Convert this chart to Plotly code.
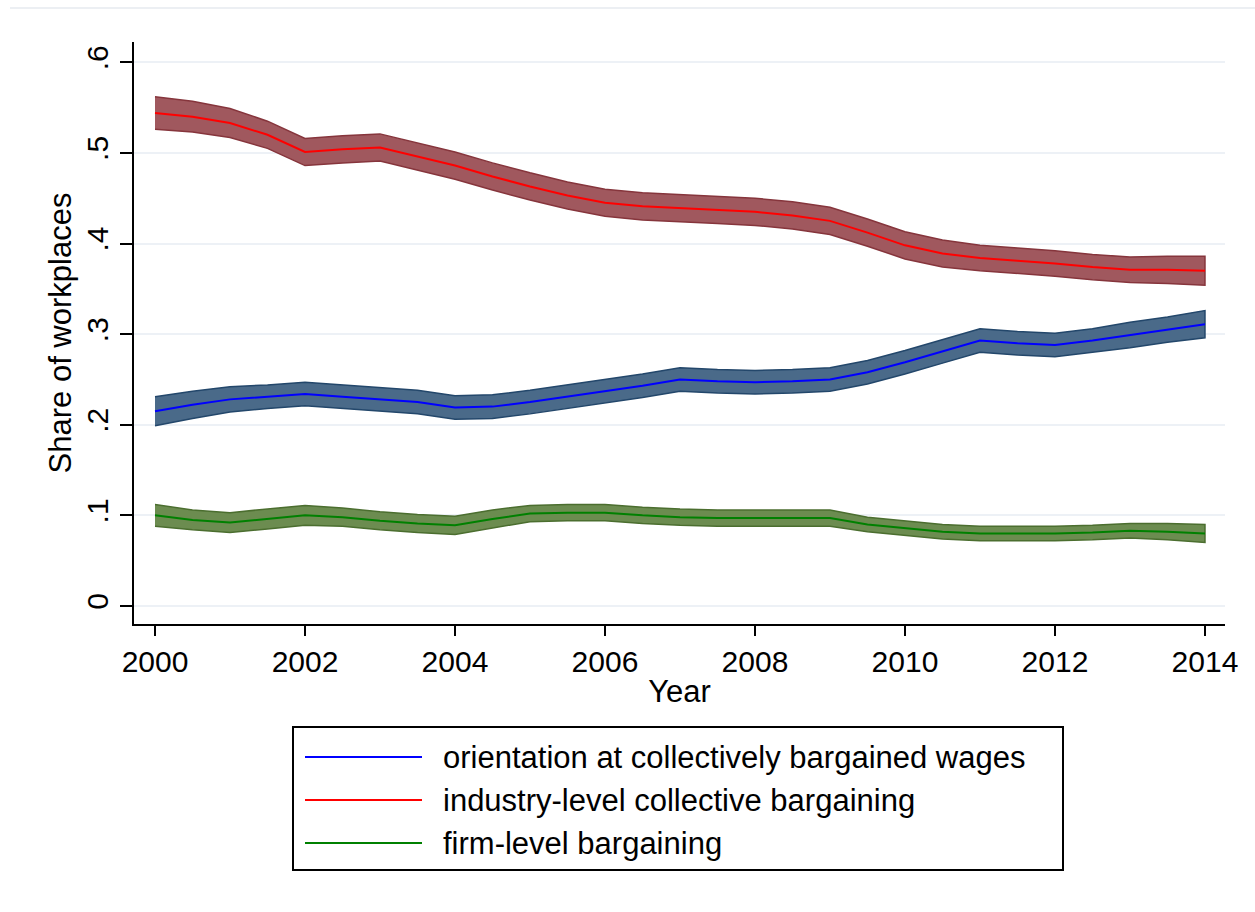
import plotly.graph_objects as go

# Half-year grid of smoothed estimates
years = [2000 + 0.5 * i for i in range(29)]

industry = [0.544, 0.540, 0.533, 0.520, 0.501, 0.504, 0.506, 0.496, 0.486, 0.474,
            0.463, 0.453, 0.445, 0.441, 0.439, 0.437, 0.435, 0.431, 0.425, 0.412,
            0.398, 0.389, 0.384, 0.381, 0.378, 0.374, 0.371, 0.371, 0.370]
industry_hw = [0.018, 0.017, 0.016, 0.015, 0.015, 0.015, 0.015, 0.015, 0.015, 0.015,
               0.015, 0.015, 0.015, 0.015, 0.015, 0.015, 0.015, 0.015, 0.015, 0.015,
               0.015, 0.015, 0.014, 0.014, 0.014, 0.014, 0.014, 0.015, 0.016]

orientation = [0.215, 0.222, 0.228, 0.231, 0.234, 0.231, 0.228, 0.225, 0.219, 0.220,
               0.225, 0.231, 0.237, 0.243, 0.250, 0.248, 0.247, 0.248, 0.250, 0.258,
               0.269, 0.281, 0.293, 0.290, 0.288, 0.293, 0.299, 0.305, 0.311]
orientation_hw = [0.016, 0.015, 0.014, 0.013, 0.013, 0.013, 0.013, 0.013, 0.013, 0.013,
                  0.013, 0.013, 0.013, 0.013, 0.013, 0.013, 0.013, 0.013, 0.013, 0.013,
                  0.013, 0.013, 0.013, 0.013, 0.013, 0.013, 0.014, 0.014, 0.015]

firm = [0.100, 0.095, 0.092, 0.096, 0.100, 0.098, 0.094, 0.091, 0.089, 0.096,
        0.102, 0.103, 0.103, 0.100, 0.098, 0.097, 0.097, 0.097, 0.097, 0.090,
        0.086, 0.082, 0.080, 0.080, 0.080, 0.081, 0.083, 0.082, 0.080]
firm_hw = [0.012, 0.011, 0.011, 0.011, 0.011, 0.010, 0.010, 0.010, 0.010, 0.010,
           0.009, 0.009, 0.009, 0.009, 0.009, 0.009, 0.009, 0.009, 0.009, 0.008,
           0.008, 0.008, 0.008, 0.008, 0.008, 0.008, 0.008, 0.009, 0.010]

labels = ["orientation at collectively bargained wages",
          "industry-level collective bargaining",
          "firm-level bargaining"]

y_tickvals = [0, 0.1, 0.2, 0.3, 0.4, 0.5, 0.6]
y_ticktext = ["0", ".1", ".2", ".3", ".4", ".5", ".6"]
x_tickvals = [2000, 2002, 2004, 2006, 2008, 2010, 2012, 2014]

series = [
    (orientation, orientation_hw, "#0000FF", "#4A6A89", "#23476B"),
    (industry, industry_hw, "#FF0000", "#A0585E", "#86353C"),
    (firm, firm_hw, "#008000", "#6C8C50", "#4B6E2F"),
]

W, H = 1255, 912
ML, MR, MT, MB = 134, 30, 42, 288
PW, PH = W - ML - MR, H - MT - MB


def px(x):
    return (x - ML) / PW


def py(y):
    return (H - MB - y) / PH


fig = go.Figure()

# Confidence bands
for vals, hw, lc, fc, ec in series:
    upper = [v + h for v, h in zip(vals, hw)]
    lower = [v - h for v, h in zip(vals, hw)]
    fig.add_trace(go.Scatter(
        x=years + years[::-1], y=upper + lower[::-1],
        fill="toself", fillcolor=fc, mode="lines",
        line=dict(color=ec, width=1.5), hoverinfo="skip", showlegend=False))

# Point estimates
for (vals, hw, lc, fc, ec), name in zip(series, labels):
    fig.add_trace(go.Scatter(x=years, y=vals, mode="lines", name=name,
                             line=dict(color=lc, width=2), showlegend=False))

font = dict(family="Liberation Sans, Arial, sans-serif", size=31, color="black")
tick_font = dict(family="Liberation Sans, Arial, sans-serif", size=30, color="black")

fig.update_layout(
    width=W, height=H,
    margin=dict(l=ML, r=MR, t=MT, b=MB),
    paper_bgcolor="white", plot_bgcolor="white",
    font=font,
    xaxis=dict(range=[1999.72, 2014.267], tickvals=x_tickvals, tickfont=tick_font,
               showline=True, linecolor="black", linewidth=2,
               ticks="outside", ticklen=10, tickwidth=2, tickcolor="black",
               showgrid=False, zeroline=False,
               title=dict(text="Year", font=font, standoff=3)),
    yaxis=dict(range=[-0.0199, 0.6224], tickvals=y_tickvals, ticktext=y_ticktext,
               tickangle=-90, tickfont=tick_font,
               showline=True, linecolor="black", linewidth=2,
               ticks="outside", ticklen=12, tickwidth=2, tickcolor="black",
               showgrid=True, gridcolor="#EDF1F6", gridwidth=2, zeroline=False,
               title=dict(text="Share of workplaces", font=font, standoff=0)),
)

shapes = []
annotations = []

# faint rule across the top of the canvas
shapes.append(dict(type="line", xref="paper", yref="paper",
                   x0=px(10), x1=px(1255), y0=py(8), y1=py(8),
                   line=dict(color="#ECEFF3", width=2)))

# legend box
shapes.append(dict(type="rect", xref="paper", yref="paper",
                   x0=px(293), x1=px(1063), y0=py(727), y1=py(870),
                   line=dict(color="black", width=2), fillcolor="white"))
rows = [757, 800, 843]
for (vals, hw, lc, fc, ec), name, ry in zip(series, labels, rows):
    shapes.append(dict(type="line", xref="paper", yref="paper",
                       x0=px(305), x1=px(422), y0=py(ry), y1=py(ry),
                       line=dict(color=lc, width=2)))
    annotations.append(dict(xref="paper", yref="paper", x=px(441), y=py(ry),
                            text=name, showarrow=False, xanchor="left",
                            yanchor="middle", font=font))

fig.update_layout(shapes=shapes, annotations=annotations)

fig.write_html("out.html")
